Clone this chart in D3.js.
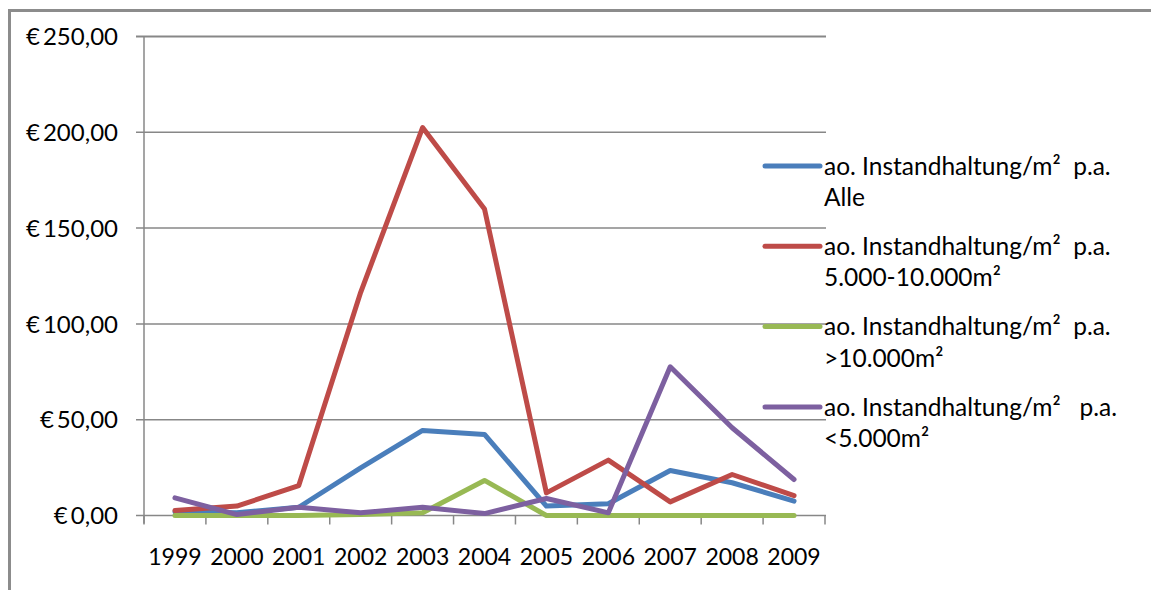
<!DOCTYPE html>
<html><head><meta charset="utf-8">
<script src="https://cdn.jsdelivr.net/npm/d3@7"></script>
<style>
body{margin:0;background:#fff;}
svg{display:block;font-family:Lato, "Open Sans", sans-serif;}
</style></head>
<body><svg id="c" width="1151" height="590"></svg>
<script>
const years = ["1999","2000","2001","2002","2003","2004","2005","2006","2007","2008","2009"];
const alle      = [1.9, 1.4, 4.3, 24.9, 44.4, 42.3, 4.9, 6.1, 23.5, 17.1, 7.5];
const mittel    = [2.6, 4.9, 15.6, 116.5, 202.5, 160, 11.8, 28.9, 7.1, 21.4, 10.4];
const gross     = [0, 0, 0, 0.5, 1.4, 18.3, 0, 0, 0, 0, 0];
const klein     = [9.2, 0.5, 4.3, 1.4, 4.3, 1, 8.9, 1.4, 77.6, 45.8, 18.8];
const yTicks    = [0, 50, 100, 150, 200, 250];
const seriesNames = [
  ["ao. Instandhaltung/m²  p.a.", "Alle"],
  ["ao. Instandhaltung/m²  p.a.", "5.000-10.000m²"],
  ["ao. Instandhaltung/m²  p.a.", ">10.000m²"],
  ["ao. Instandhaltung/m²   p.a.", "<5.000m²"]
];
const seriesColors = ["#4A7EBB", "#BE4B48", "#98B954", "#7D60A0"];
const seriesData = [alle, mittel, gross, klein];

const svg = d3.select("#c");
// outer frame
svg.append("path").attr("d","M9.5,590 V10.5 H1151").attr("fill","none").attr("stroke","#8c8c8c").attr("stroke-width",3);

const x0 = 144, x1 = 825, yBottom = 515.5, yTop = 36.5;
const x = d3.scaleBand().domain(years).range([x0, x1]);
const y = d3.scaleLinear().domain([0, 250]).range([yBottom, yTop]);
const grid = "#878787";

// gridlines
svg.append("g").selectAll("line").data(yTicks).join("line")
  .attr("x1", x0 - 8).attr("x2", x1 + 1)
  .attr("y1", d => y(d)).attr("y2", d => y(d))
  .attr("stroke", grid).attr("stroke-width", d => d === 250 ? 2 : 1.5);

// y axis line
svg.append("line").attr("x1", x0).attr("x2", x0).attr("y1", yTop).attr("y2", yBottom + 8)
  .attr("stroke", grid).attr("stroke-width", 1.5);

// y labels
const fmt = v => "€\u2009" + d3.format(".2f")(v).replace(".", ",");
svg.append("g").selectAll("text").data(yTicks).join("text")
  .attr("x", 118).attr("y", d => y(d)).attr("dy", "0.36em")
  .attr("text-anchor", "end").attr("font-size", 24).attr("fill", "#000")
  .text(fmt);

// x axis ticks
const xb = years.map(yv => x(yv)).concat([x1]);
svg.append("g").selectAll("line").data(xb).join("line")
  .attr("x1", d => d).attr("x2", d => d).attr("y1", yBottom).attr("y2", yBottom + 9)
  .attr("stroke", grid).attr("stroke-width", 1.5);

svg.append("g").selectAll("text").data(years).join("text")
  .attr("x", d => x(d) + x.bandwidth() / 2).attr("y", 557).attr("dy", "0.36em")
  .attr("text-anchor", "middle").attr("font-size", 23).attr("fill", "#000")
  .text(d => d);

// lines
const line = d3.line().x((d, i) => x(years[i]) + x.bandwidth() / 2).y(d => y(d));
svg.append("g").selectAll("path").data(seriesData).join("path")
  .attr("d", d => line(d)).attr("fill", "none")
  .attr("stroke", (d, i) => seriesColors[i]).attr("stroke-width", 5)
  .attr("stroke-linejoin", "round").attr("stroke-linecap", "round");

// legend
const lg = svg.append("g");
seriesNames.forEach((nm, i) => {
  const cy = 166 + i * 80.3;
  lg.append("line").attr("x1", 765).attr("x2", 820).attr("y1", cy).attr("y2", cy)
    .attr("stroke", seriesColors[i]).attr("stroke-width", 5).attr("stroke-linecap", "round");
  const t = lg.append("text").attr("x", 824).attr("y", cy).attr("font-size", 24.5).attr("fill", "#000")
    .attr("xml:space", "preserve").style("white-space", "pre");
  t.append("tspan").attr("x", 824).attr("dy", "0.36em").text(nm[0]);
  t.append("tspan").attr("x", 824).attr("dy", "1.27em").text(nm[1]);
});
</script></body></html>
